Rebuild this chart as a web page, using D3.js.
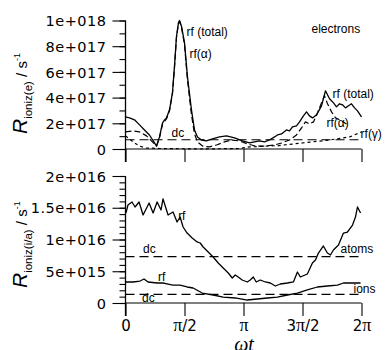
<!DOCTYPE html>
<html lang="en">
<head>
<meta charset="UTF-8">
<title>Ionization rates</title>
<style>
  body { margin: 0; background: #fff; }
  svg text { fill: #000; }
</style>
</head>
<body>
<div id="chart" style="width:386px;height:350px;"></div>
<script src="https://cdn.jsdelivr.net/npm/d3@7/dist/d3.min.js"></script>
<script>
// phase values are in units of pi (0 .. 2)
// top panel, electrons, values in units of 1e17 s^-1
var eTotalPhase = [0, 0.034, 0.076, 0.119, 0.161, 0.203, 0.246, 0.263, 0.288, 0.314, 0.331, 0.347, 0.373, 0.398, 0.415, 0.432, 0.449, 0.458, 0.475, 0.5, 0.525, 0.559, 0.585, 0.61, 0.644, 0.686, 0.737, 0.797, 0.856, 0.924, 0.992, 1.051, 1.093, 1.136, 1.178, 1.22, 1.263, 1.288, 1.322, 1.364, 1.39, 1.415, 1.449, 1.475, 1.508, 1.534, 1.559, 1.585, 1.619, 1.661, 1.695, 1.729, 1.763, 1.788, 1.814, 1.839, 1.864, 1.89, 1.915, 1.941, 1.966, 2.0];
var eTotal = [2.5, 2.42, 2.27, 1.88, 1.48, 1.09, 0.47, 0.23, 0.94, 2.03, 2.27, 2.42, 3.05, 4.38, 6.41, 8.75, 9.84, 10.0, 9.53, 8.28, 5.63, 3.05, 1.48, 0.94, 0.70, 0.63, 0.78, 0.94, 1.02, 0.86, 0.63, 0.47, 0.55, 0.63, 0.55, 0.70, 0.94, 1.09, 1.17, 1.48, 1.41, 1.72, 1.80, 2.11, 2.58, 2.89, 2.58, 2.42, 2.66, 3.36, 4.53, 3.91, 3.59, 3.28, 3.52, 3.44, 3.20, 3.36, 3.52, 3.20, 2.97, 2.50];

var eAlphaPhase = [0, 0.059, 0.119, 0.178, 0.22, 0.263, 0.288, 0.314, 0.347, 0.373, 0.398, 0.415, 0.432, 0.449, 0.458, 0.475, 0.5, 0.525, 0.559, 0.585, 0.61, 0.653, 0.712, 0.771, 0.839, 0.898, 0.966, 1.034, 1.102, 1.178, 1.263, 1.322, 1.39, 1.449, 1.492, 1.525, 1.559, 1.593, 1.627, 1.661, 1.686, 1.712, 1.746, 1.78, 1.814, 1.873];
var eAlpha = [1.33, 1.41, 1.33, 1.02, 0.63, 0.23, 0.86, 1.95, 2.34, 2.97, 4.30, 6.33, 8.67, 9.77, 9.92, 9.45, 8.13, 5.39, 2.66, 1.17, 0.55, 0.23, 0.16, 0.31, 0.55, 0.70, 0.63, 0.39, 0.23, 0.23, 0.31, 0.47, 0.70, 1.09, 1.64, 2.11, 1.95, 2.11, 2.81, 3.59, 4.14, 3.52, 2.89, 2.42, 2.27, 1.95];

var eGammaPhase = [0, 0.034, 0.076, 0.119, 0.169, 0.288, 0.627, 0.966, 1.05, 1.3, 1.5, 1.73, 1.9, 2.0];
var eGamma = [1.02, 0.78, 0.47, 0.23, 0.08, 0.04, 0.0, 0.04, 0.16, 0.27, 0.47, 0.70, 0.94, 1.33];

var eDc = 0.72;

// bottom panel, atoms and ions, values in units of 1e15 s^-1
var atomPhase = [0.004, 0.021, 0.055, 0.081, 0.115, 0.149, 0.2, 0.234, 0.268, 0.301, 0.318, 0.361, 0.403, 0.437, 0.463, 0.488, 0.522, 0.565, 0.607, 0.633, 0.658, 0.701, 0.743, 0.786, 0.828, 0.871, 0.905, 0.93, 0.955, 0.989, 1.032, 1.057, 1.083, 1.108, 1.142, 1.185, 1.227, 1.27, 1.312, 1.372, 1.423, 1.457, 1.482, 1.541, 1.584, 1.61, 1.635, 1.677, 1.711, 1.737, 1.762, 1.805, 1.847, 1.881, 1.924, 1.949, 1.966, 1.992];
var atomRf = [14.17, 15.43, 15.91, 15.12, 15.91, 13.86, 15.75, 14.17, 15.91, 14.65, 16.38, 13.86, 14.33, 12.76, 13.54, 11.97, 11.02, 10.24, 9.61, 9.45, 8.82, 8.03, 7.24, 6.30, 5.51, 4.72, 3.94, 4.41, 4.09, 3.62, 3.31, 3.62, 4.09, 3.31, 3.62, 3.31, 3.15, 2.68, 2.99, 3.15, 3.31, 4.88, 4.09, 4.57, 6.30, 6.77, 7.87, 8.98, 7.87, 7.56, 8.35, 9.13, 11.02, 11.18, 12.28, 13.54, 15.12, 14.17];

var ionPhase = [0.004, 0.064, 0.123, 0.157, 0.191, 0.268, 0.318, 0.361, 0.403, 0.463, 0.522, 0.573, 0.65, 0.743, 0.828, 0.93, 1.032, 1.117, 1.202, 1.287, 1.372, 1.457, 1.541, 1.626, 1.711, 1.796, 1.847, 1.906, 1.992];
var ionRf = [3.31, 3.31, 3.46, 3.78, 3.31, 3.15, 3.15, 2.99, 2.83, 2.83, 2.52, 2.36, 1.57, 1.26, 0.94, 0.79, 0.47, 0.63, 0.79, 0.94, 1.26, 1.57, 2.05, 2.52, 2.68, 2.83, 3.15, 3.15, 3.15];

var atomDc = 7.3;
var ionDc = 1.35;

// axis ticks
var xTicks = [0, 0.5, 1, 1.5, 2];
var xTickLabels = [["0", ""], ["", "\u03c0", "/2"], ["", "\u03c0"], ["3", "\u03c0", "/2"], ["2", "\u03c0"]];
var eTicks = [0, 2, 4, 6, 8, 10];
var eTickLabels = ["0", "2e+017", "4e+017", "6e+017", "8e+017", "1e+018"];
var aTicks = [0, 5, 10, 15, 20];
var aTickLabels = ["0", "5e+015", "1e+016", "1.5e+016", "2e+016"];

// annotations: [text, phase, value]
var eNotes = [["rf (total)", 0.517, 8.83], ["rf(\u03b1)", 0.542, 7.11], ["electrons", 1.576, 9.06], ["dc", 0.39, 0.94],
              ["rf (total)", 1.754, 3.98], ["rf(\u03b1)", 1.703, 1.72], ["rf(\u03b3)", 1.992, 0.86]];
var aNotes = [["rf", 0.446, 13.07], ["dc", 0.149, 7.87], ["rf", 0.276, 3.46], ["dc", 0.14, 0.16],
              ["atoms", 1.822, 7.87], ["ions", 1.932, 1.57]];

var svg = d3.select("#chart").append("svg")
    .attr("width", 386)
    .attr("height", 350);

var sans = "'Liberation Sans', Arial, sans-serif";
var tickFont = "'DejaVu Sans', sans-serif";

var x = d3.scaleLinear().domain([0, 2]).range([125.5, 361.5]);
var yTop = d3.scaleLinear().domain([0, 10]).range([149, 20.5]);
var yBot = d3.scaleLinear().domain([0, 20]).range([303, 176]);

function zip(ph, v) {
    return ph.map(function (p, i) { return [p, v[i]]; });
}

function drawPanel(y, ticks, labels, minorStep, showX) {
    var g = svg.append("g");
    var dom = y.domain();

    // minor y ticks
    g.append("g")
        .attr("transform", "translate(" + x(0) + ",0)")
        .call(d3.axisLeft(y).tickValues(d3.range(dom[0], dom[1] + 0.001, minorStep)).tickSize(6).tickFormat(""))
        .call(function (a) { a.select(".domain").remove(); });

    // major y ticks
    var ya = g.append("g")
        .attr("transform", "translate(" + x(0) + ",0)")
        .call(d3.axisLeft(y).tickValues(ticks).tickSize(13).tickPadding(6)
            .tickFormat(function (d, i) { return labels[i]; }));
    ya.select(".domain").remove();
    ya.selectAll("text").style("font-family", tickFont).style("font-size", "14.5px")
        .style("letter-spacing", "0.5px").attr("dy", "0.36em");

    // x axis
    var xa = g.append("g")
        .attr("transform", "translate(0," + y(0) + ")")
        .call(d3.axisBottom(x).tickValues(xTicks).tickSize(13).tickPadding(4).tickFormat(""));
    xa.select(".domain").attr("d", "M" + x(0) + ",0H" + x(2));

    if (showX) {
        xa.selectAll(".tick").append("text")
            .attr("y", 28)
            .attr("text-anchor", "middle")
            .style("font-family", tickFont)
            .style("font-size", "15px")
            .each(function (d, i) {
                var t = d3.select(this);
                xTickLabels[i].forEach(function (s, k) {
                    if (!s) return;
                    t.append("tspan")
                        .style("font-family", k === 1 ? "'Liberation Serif', serif" : tickFont)
                        .style("font-size", k === 1 ? "18px" : "15px")
                        .text(s);
                });
            });
    }

    // vertical axis line running down through the zero tick
    g.append("line")
        .attr("x1", x(0)).attr("x2", x(0))
        .attr("y1", y(dom[1])).attr("y2", y(0) + 13)
        .attr("stroke", "#000").attr("stroke-width", 1.3);

    g.selectAll(".tick line").attr("stroke", "#000").attr("stroke-width", 1.1);
    g.selectAll(".domain").attr("stroke", "#000").attr("stroke-width", 1.1);
    return g;
}

var gTop = drawPanel(yTop, eTicks, eTickLabels, 1, false);
var gBot = drawPanel(yBot, aTicks, aTickLabels, 1, true);

function drawLine(g, y, pts, dash, w) {
    var line = d3.line()
        .x(function (d) { return x(d[0]); })
        .y(function (d) { return y(d[1]); });
    g.append("path")
        .datum(pts)
        .attr("d", line)
        .attr("fill", "none")
        .attr("stroke", "#000")
        .attr("stroke-width", w || 1.2)
        .attr("stroke-linejoin", "round")
        .attr("stroke-dasharray", dash || null);
}

// top panel curves
drawLine(gTop, yTop, [[0, eDc], [2, eDc]], "9,5");
drawLine(gTop, yTop, zip(eGammaPhase, eGamma), "3,3");
drawLine(gTop, yTop, zip(eAlphaPhase, eAlpha), "6,3");
drawLine(gTop, yTop, zip(eTotalPhase, eTotal), null, 1.3);

// bottom panel curves
drawLine(gBot, yBot, [[0, atomDc], [2, atomDc]], "9,5");
drawLine(gBot, yBot, [[0, ionDc], [2, ionDc]], "9,5");
drawLine(gBot, yBot, zip(atomPhase, atomRf), null, 1.3);
drawLine(gBot, yBot, zip(ionPhase, ionRf), null, 1.3);

function notes(g, y, list) {
    g.selectAll(".note").data(list).enter().append("text")
        .attr("class", "note")
        .attr("x", function (d) { return x(d[1]); })
        .attr("y", function (d) { return y(d[2]); })
        .style("font-family", sans)
        .style("font-size", "12px")
        .text(function (d) { return d[0]; });
}
notes(gTop, yTop, eNotes);
notes(gBot, yBot, aNotes);

// y axis titles
function yTitle(tx, ty, sub) {
    var t = svg.append("text")
        .attr("transform", "translate(" + tx + "," + ty + ") rotate(-90)")
        .style("font-family", sans);
    t.append("tspan").style("font-size", "21px").style("font-style", "italic").text("R");
    t.append("tspan").style("font-size", "11.5px").attr("dy", 5).text("ioniz(" + sub + ")");
    t.append("tspan").style("font-size", "15px").attr("dy", -5).text(" / s");
    t.append("tspan").style("font-size", "9px").attr("dy", -7).text("-1");
}
yTitle(27, 134, "e");
yTitle(27, 288, "i/a");

// x axis title, cut by the bottom edge as in the original figure
svg.append("text")
    .attr("x", 244).attr("y", 351)
    .attr("text-anchor", "middle")
    .style("font-family", "'Liberation Serif', serif")
    .style("font-style", "italic")
    .style("font-size", "20px")
    .text("\u03c9t");
</script>
</body>
</html>
